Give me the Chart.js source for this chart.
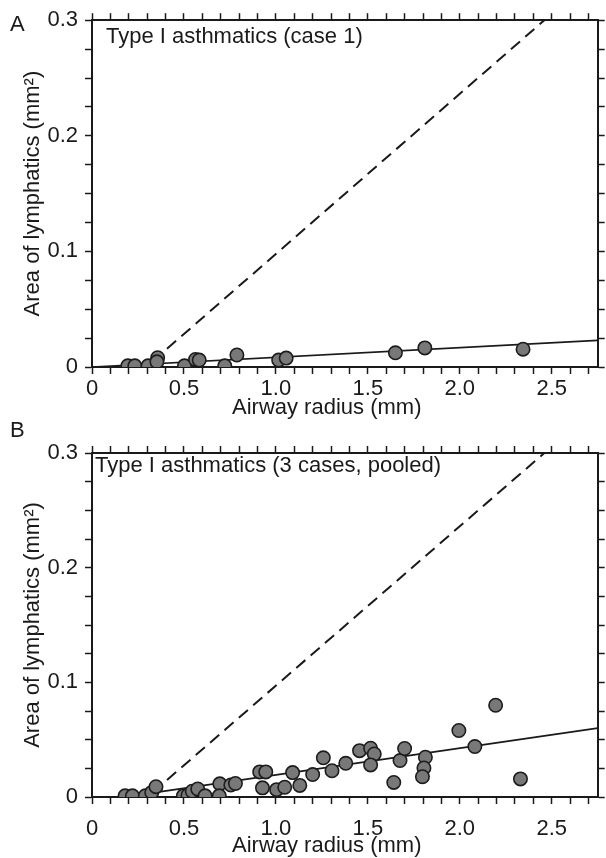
<!DOCTYPE html>
<html>
<head>
<meta charset="utf-8">
<script src="https://cdn.jsdelivr.net/npm/chart.js@4.4.1/dist/chart.umd.min.js"></script>
<style>
    body { margin: 0; background: #fff; width: 606px; height: 858px; position: relative; overflow: hidden; }
    .panel { position: absolute; left: 0; width: 606px; }
    .txt { position: absolute; font: 22px "Liberation Sans", Arial, sans-serif; line-height: 1; color: #1a1a1a; white-space: nowrap; }
</style>
</head>
<body>
<div class="panel" style="top:0;height:424px"><canvas id="chartA" width="606" height="424"></canvas></div>
<div class="panel" style="top:430px;height:428px"><canvas id="chartB" width="606" height="428"></canvas></div>
<div class="txt" style="left:10px;top:13px">A</div>
<div class="txt" style="left:10px;top:419px">B</div>
<div class="txt" style="left:106px;top:25px">Type I asthmatics (case 1)</div>
<div class="txt" style="left:95px;top:454px">Type I asthmatics (3 cases, pooled)</div>
<div class="txt" style="left:232px;top:396px">Airway radius (mm)</div>
<div class="txt" style="left:232px;top:834px">Airway radius (mm)</div>

<script>
//? Dados
const xTickLabels = ['0', '0.5', '1.0', '1.5', '2.0', '2.5']
const yTickLabels = ['0', '0.1', '0.2', '0.3']

// Painel A - caso 1
const radiusA = [0.195, 0.233, 0.305, 0.357, 0.353, 0.503, 0.563, 0.583, 0.722, 0.788, 1.015, 1.056, 1.65, 1.81, 2.344]
const areaA   = [0.001, 0.001, 0.001, 0.008, 0.0045, 0.001, 0.0065, 0.006, 0.001, 0.0104, 0.006, 0.0077, 0.0123, 0.0165, 0.0154]
const fitA_x  = [0, 2.75]
const fitA_y  = [0, 0.0231]
const dashA_x = [0.33, 2.46]
const dashA_y = [0.005, 0.3]

// Painel B - 3 casos juntos
const radiusB = [0.18, 0.22, 0.29, 0.325, 0.348, 0.497, 0.522, 0.545, 0.575, 0.615, 0.695, 0.692, 0.755, 0.78,
                 0.912, 0.945, 0.927, 1.004, 1.048, 1.091, 1.13, 1.2, 1.258, 1.305, 1.38, 1.455, 1.515, 1.535,
                 1.515, 1.641, 1.675, 1.7, 1.813, 1.805, 1.797, 1.995, 2.082, 2.195, 2.33]
const areaB   = [0.001, 0.001, 0.001, 0.004, 0.009, 0.001, 0.0015, 0.005, 0.007, 0.001, 0.0115, 0.001, 0.0105, 0.0118,
                 0.0219, 0.0219, 0.008, 0.0064, 0.0085, 0.0213, 0.0101, 0.0196, 0.0342, 0.0229, 0.0294, 0.0404, 0.0425, 0.0375,
                 0.028, 0.0127, 0.0318, 0.0423, 0.0347, 0.0253, 0.0177, 0.058, 0.044, 0.080, 0.0158]
const fitB_x  = [0.3, 2.75]
const fitB_y  = [0.003, 0.06]
const dashB_x = [0.33, 2.46]
const dashB_y = [0.004, 0.3]

const fonte = { family: '"Liberation Sans", Arial, sans-serif', size: 22 }
const cor = '#1a1a1a'

function pares(xs, ys) {
    return xs.map((x, i) => ({ x: x, y: ys[i] }))
}

function labelX(v) {
    const k = Math.round(v / 0.5)
    return Math.abs(v - k * 0.5) < 1e-6 ? xTickLabels[k] : ''
}

function labelY(v) {
    const k = Math.round(v / 0.1)
    return Math.abs(v - k * 0.1) < 1e-6 ? yTickLabels[k] : ''
}

// caixa: topo, base, direita da area do grafico (em px do canvas)
function CriarPainel(id, pontos, ajuste, tracejada, caixa) {
    const ctx = document.getElementById(id).getContext('2d')
    const alt = ctx.canvas.height
    const eixo = (extra) => Object.assign({
        type: 'linear',
        border: { display: true, color: cor, width: 2 },
        grid: { drawOnChartArea: false, drawTicks: true, tickLength: 7, tickColor: cor, tickWidth: 1.5 }
    }, extra)

    new Chart(ctx, {
        data: {
            datasets: [
                {
                    type: 'scatter', data: pontos, order: 0,
                    pointRadius: 6.7, pointHoverRadius: 6.7,
                    backgroundColor: '#787878', borderColor: '#1c1c1c', borderWidth: 1.6
                },
                {
                    type: 'line', data: ajuste, order: 1,
                    borderColor: cor, borderWidth: 1.7, pointRadius: 0, fill: false
                },
                {
                    type: 'line', data: tracejada, order: 2,
                    borderColor: cor, borderWidth: 2, borderDash: [12, 7], pointRadius: 0, fill: false
                }
            ]
        },
        options: {
            responsive: false,
            animation: false,
            devicePixelRatio: 1,
            layout: { padding: 0 },
            plugins: { legend: { display: false }, tooltip: { enabled: false }, title: { display: false } },
            scales: {
                x: eixo({
                    position: 'bottom', min: 0, max: 2.75,
                    ticks: {
                        stepSize: 0.1, includeBounds: false, autoSkip: false, maxRotation: 0,
                        padding: caixa.padX, color: cor, font: fonte, callback: labelX
                    },
                    afterFit: (s) => { s.height = alt - caixa.base }
                }),
                x2: eixo({
                    position: 'top', min: 0, max: 2.75,
                    ticks: { stepSize: 0.1, includeBounds: false, display: false },
                    afterFit: (s) => { s.height = caixa.topo }
                }),
                y: eixo({
                    position: 'left', min: 0, max: 0.3,
                    ticks: {
                        stepSize: 0.025, includeBounds: false, autoSkip: false,
                        padding: 7, color: cor, font: fonte, callback: labelY
                    },
                    title: { display: true, text: 'Area of lymphatics (mm²)', color: cor, font: fonte, padding: { top: 20, bottom: 0 } },
                    afterFit: (s) => { s.width = 92 }
                }),
                y2: eixo({
                    position: 'right', min: 0, max: 0.3,
                    ticks: { stepSize: 0.025, includeBounds: false, display: false },
                    afterFit: (s) => { s.width = 606 - caixa.direita }
                })
            }
        }
    })
}

CriarPainel('chartA', pares(radiusA, areaA), pares(fitA_x, fitA_y), pares(dashA_x, dashA_y),
    { topo: 18, base: 367, direita: 603, padX: 2 })

CriarPainel('chartB', pares(radiusB, areaB), pares(fitB_x, fitB_y), pares(dashB_x, dashB_y),
    { topo: 23, base: 367, direita: 600, padX: 12 })
</script>
</body>
</html>
